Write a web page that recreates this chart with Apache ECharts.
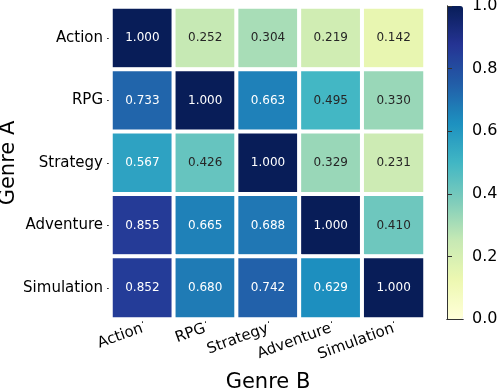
<!DOCTYPE html>
<html>
<head>
<meta charset="utf-8">
<script src="https://cdn.jsdelivr.net/npm/echarts@6/dist/echarts.min.js"></script>
<style>
  html, body { margin: 0; padding: 0; background: #fff; }
  #chart { width: 500px; height: 390px; }
</style>
</head>
<body>
<div id="chart"></div>
<script>
const genresB = ['Action', 'RPG', 'Strategy', 'Adventure', 'Simulation'];
const genresA = ['Action', 'RPG', 'Strategy', 'Adventure', 'Simulation'];
// rows = Genre A, columns = Genre B
const rowAction = [1.000, 0.252, 0.304, 0.219, 0.142];
const rowRPG = [0.733, 1.000, 0.663, 0.495, 0.330];
const rowStrategy = [0.567, 0.426, 1.000, 0.329, 0.231];
const rowAdventure = [0.855, 0.665, 0.688, 1.000, 0.410];
const rowSimulation = [0.852, 0.680, 0.742, 0.629, 1.000];
const matrix = [rowAction, rowRPG, rowStrategy, rowAdventure, rowSimulation];

const ylgnbu = ['#ffffd9', '#edf8b1', '#c7e9b4', '#7fcdbb', '#41b6c4', '#1d91c0', '#225ea8', '#253494', '#081d58'];
const font = 'DejaVu Sans';

const data = [];
matrix.forEach((row, i) => {
  row.forEach((v, j) => {
    data.push({
      value: [j, i, v],
      label: { color: v > 0.5 ? '#ffffff' : '#262626' }
    });
  });
});

// outline of the colorbar, drawn with plain axis lines
const cbarLine = { show: true, lineStyle: { color: '#333', width: 1 } };

const chart = echarts.init(document.getElementById('chart'));
chart.setOption({
  animation: false,
  textStyle: { fontFamily: font },
  grid: [
    { left: 111, right: 75, top: 7, bottom: 71, outerBoundsMode: 'none', containLabel: false },
    { left: 447, top: 6, width: 16, height: 313, outerBoundsMode: 'none', containLabel: false }
  ],
  xAxis: [
    {
      type: 'category', gridIndex: 0, data: genresB,
      name: 'Genre B', nameLocation: 'middle', nameGap: 53, nameMoveOverlap: false,
      nameTextStyle: { fontSize: 21, color: '#000', fontFamily: font },
      axisLine: { show: false },
      axisTick: { show: true, alignWithLabel: true, length: 4, lineStyle: { color: '#333' } },
      axisLabel: { rotate: 20, fontSize: 15, color: '#000', margin: 9, fontFamily: font },
      splitLine: { show: false }
    },
    { type: 'value', gridIndex: 1, position: 'bottom', min: 0, max: 1, z: 20,
      axisLine: cbarLine, axisTick: { show: false }, axisLabel: { show: false }, splitLine: { show: false } },
    { type: 'value', gridIndex: 1, position: 'top', min: 0, max: 1, z: 20,
      axisLine: cbarLine, axisTick: { show: false }, axisLabel: { show: false }, splitLine: { show: false } }
  ],
  yAxis: [
    {
      type: 'category', gridIndex: 0, data: genresA, inverse: true,
      name: 'Genre A', nameLocation: 'middle', nameGap: 92, nameMoveOverlap: false,
      nameTextStyle: { fontSize: 21, color: '#000', fontFamily: font },
      axisLine: { show: false },
      axisTick: { show: true, alignWithLabel: true, length: 4, lineStyle: { color: '#333' } },
      axisLabel: { fontSize: 15, color: '#000', margin: 8, fontFamily: font },
      splitLine: { show: false }
    },
    {
      type: 'value', gridIndex: 1, position: 'right', min: 0, max: 1, interval: 0.2, z: 20,
      axisLine: cbarLine,
      axisTick: { show: true, inside: false, length: 5, lineStyle: { color: '#333' } },
      axisLabel: { fontSize: 16, color: '#000', margin: 9, fontFamily: font, formatter: (v) => v.toFixed(1) },
      splitLine: { show: false }
    },
    { type: 'value', gridIndex: 1, position: 'left', min: 0, max: 1, z: 20,
      axisLine: cbarLine, axisTick: { show: false }, axisLabel: { show: false }, splitLine: { show: false } }
  ],
  visualMap: {
    type: 'continuous', min: 0, max: 1, dimension: 2, seriesIndex: 0,
    calculable: false, show: true, orient: 'vertical', z: 1,
    left: 447, top: 6, itemWidth: 16, itemHeight: 313, padding: 0,
    text: null, showLabel: false, hoverLink: false,
    inRange: { color: ylgnbu }
  },
  series: [{
    type: 'heatmap', xAxisIndex: 0, yAxisIndex: 0,
    data: data,
    itemStyle: { borderColor: '#fff', borderWidth: 4 },
    label: {
      show: true, fontSize: 12, fontFamily: font,
      formatter: (p) => p.value[2].toFixed(3)
    },
    emphasis: { disabled: true }
  }]
});
</script>
</body>
</html>
